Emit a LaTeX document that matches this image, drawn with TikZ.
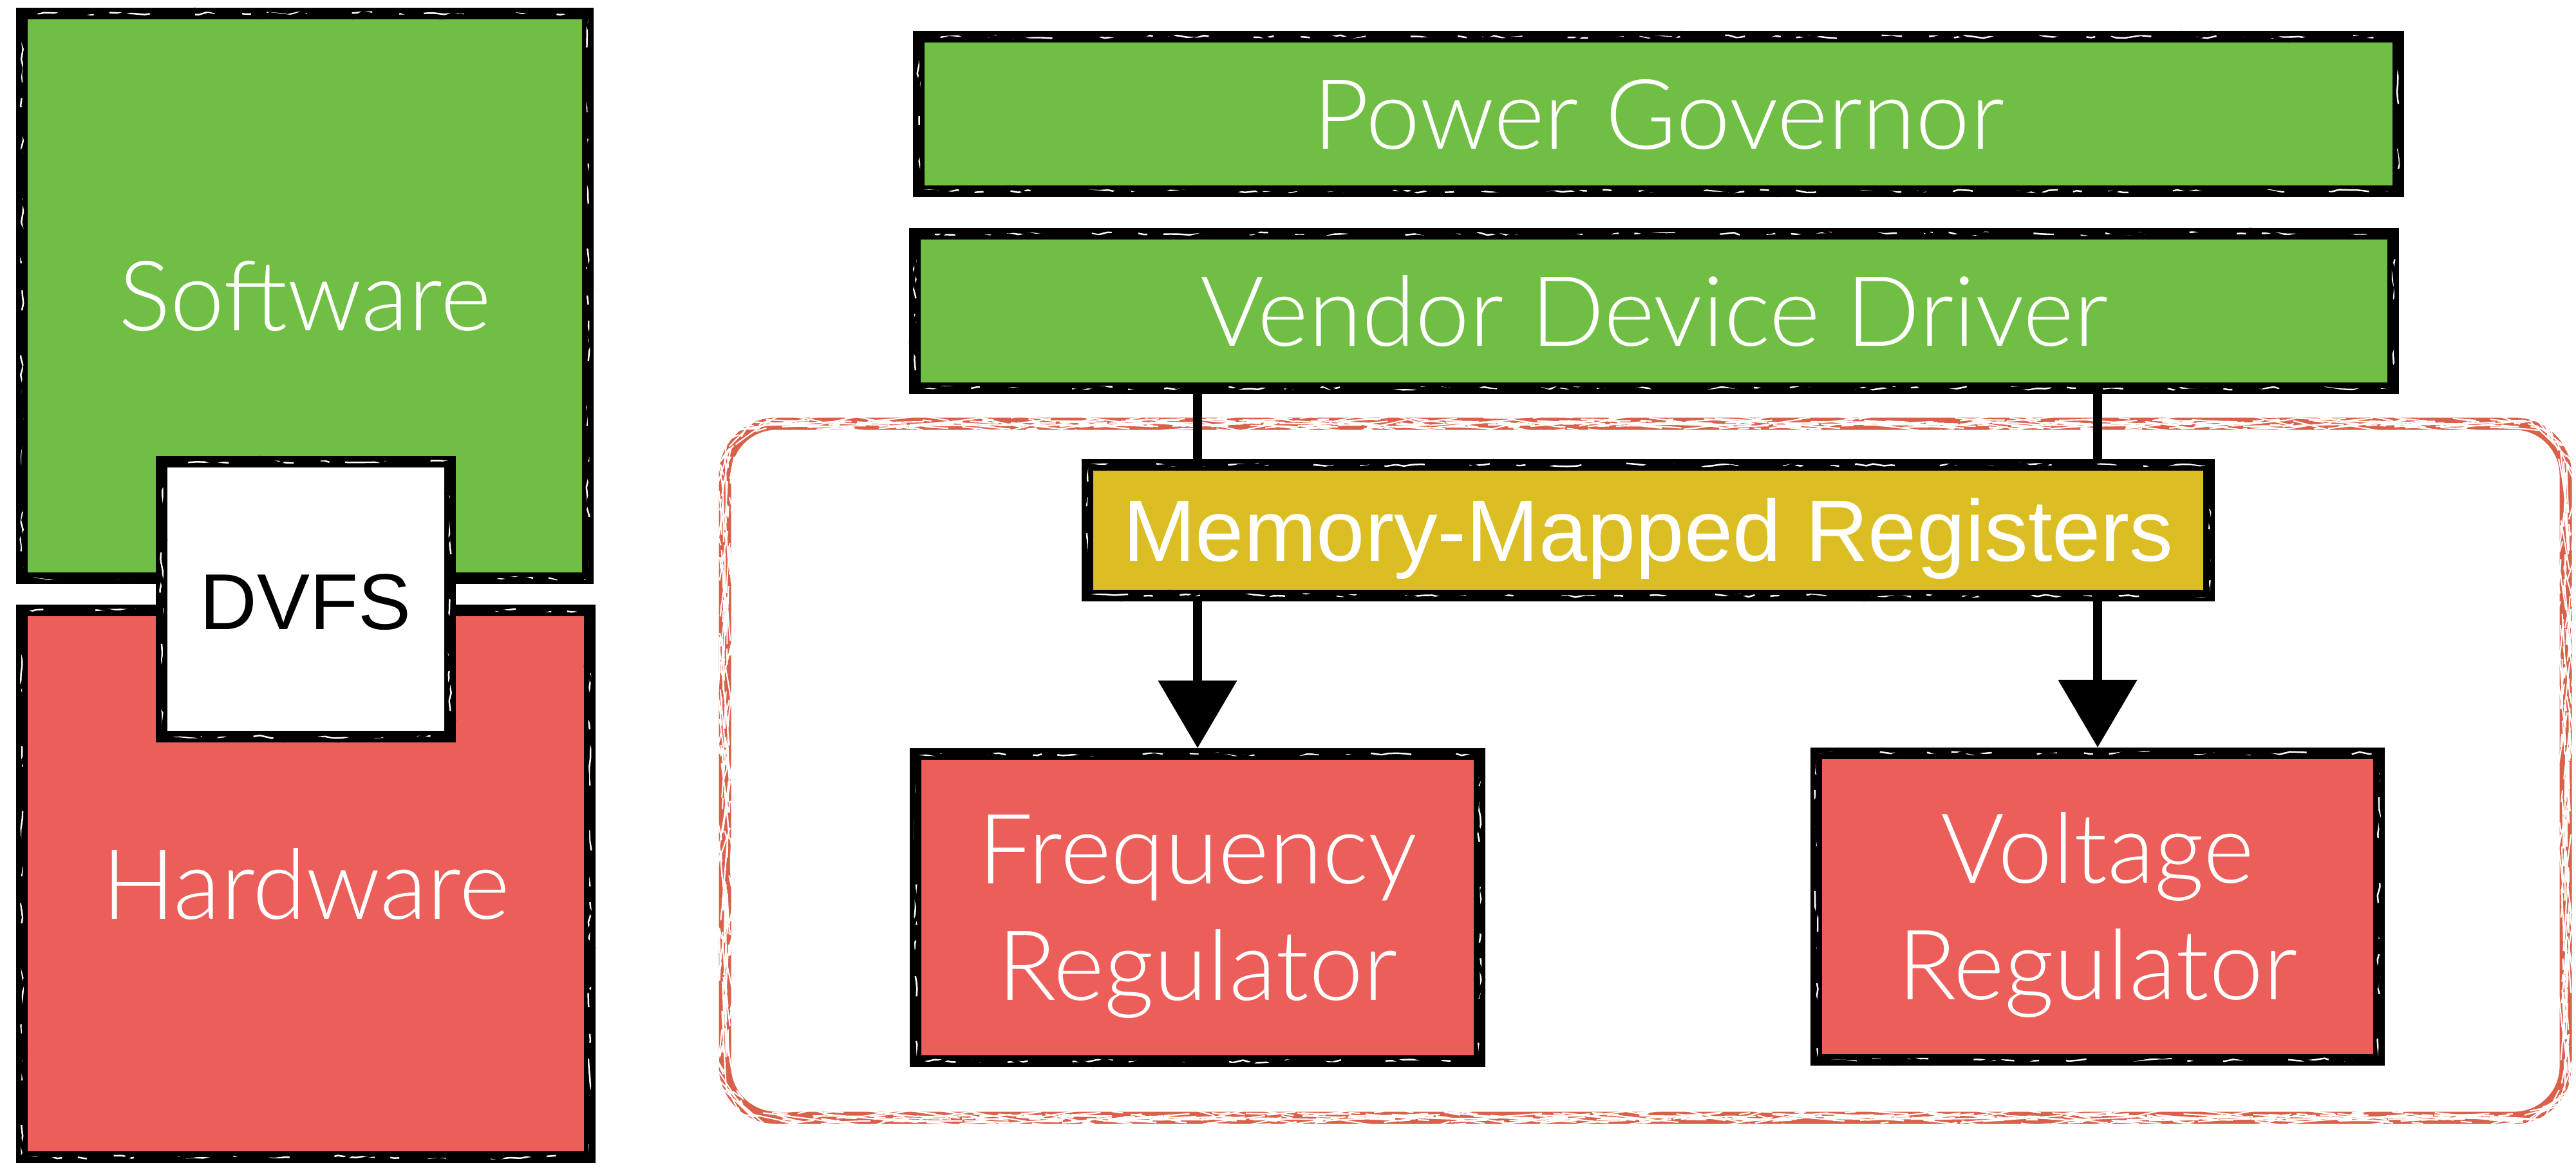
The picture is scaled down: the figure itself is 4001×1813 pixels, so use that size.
\documentclass[tikz,border=0pt]{standalone}
\usepackage{fontspec}
\newfontfamily\gillfont{Lato Light}
\newfontfamily\helvfont{Liberation Sans}
\usetikzlibrary{arrows.meta,decorations.pathmorphing}

\definecolor{swgreen}{HTML}{70BE44}
\definecolor{hwred}{HTML}{EB5E59}
\definecolor{regyellow}{HTML}{DBBD24}
\definecolor{frame}{HTML}{D9604A}

\tikzset{
  % hand-drawn looking outline: thick band, light streaks, loose outer stroke
  rough/.style={draw=black, line width=5.1pt,
    postaction={draw=white, line width=0.7pt,
      dash pattern=on 18pt off 7pt on 4pt off 12pt on 9pt off 20pt,
      decorate, decoration={random steps, segment length=4pt, amplitude=0.7pt}},
    postaction={draw=black, line width=1.3pt,
      decorate, decoration={random steps, segment length=7pt, amplitude=2pt}}},
  blk/.style={rough, rectangle, inner sep=0pt, outer sep=0pt, text=white,
    font=\gillfont\fontsize{43pt}{51.5pt}\selectfont,
    text height=31pt, text depth=0pt},
  tworow/.style={align=center, text height=82.2pt, text depth=0pt},
  conn/.style={draw=black, line width=4pt,
    -{Triangle[length=29.9pt, width=34pt]}, shorten >=2.6pt},
  groupframe/.style={draw=frame, line width=5.4pt, rounded corners=8mm,
    postaction={draw=white, line width=0.6pt,
      dash pattern=on 22pt off 10pt on 5pt off 16pt,
      decorate, decoration={random steps, segment length=5pt, amplitude=0.8pt}}}
}

\begin{document}
\begin{tikzpicture}[x=0.1mm, y=-0.1mm]
  \useasboundingbox (0,0) rectangle (4001,1813);

  % left column: software above hardware, DVFS in between
  \node[blk, fill=swgreen, minimum width=87.9mm, minimum height=87.7mm]
    (sw) at (473.5,459.5) {Software};
  \node[blk, fill=hwred, minimum width=88.2mm, minimum height=84.9mm]
    (hw) at (475,1372.5) {Hardware};
  \node[blk, fill=white, text=black, minimum width=44.8mm, minimum height=42.7mm,
    font=\helvfont\fontsize{35pt}{42pt}\selectfont, text height=27pt]
    (dvfs) at (475,930.5) {DVFS};

  % hardware group frame
  \node[groupframe, rectangle, inner sep=0pt, minimum width=285.9mm,
    minimum height=107.8mm] (hwgroup) at (2555.5,1197) {};

  % software stack
  \node[blk, fill=swgreen, minimum width=229.8mm, minimum height=24mm]
    (pg) at (2576,177) {Power Governor};
  \node[blk, fill=swgreen, minimum width=229.6mm, minimum height=24mm]
    (vdd) at (2569,483) {Vendor Device Driver};

  % regulators
  \node[blk, tworow, fill=hwred, minimum width=87.6mm, minimum height=47.7mm]
    (freq) at (1860,1409.5) {Frequency\\Regulator};
  \node[blk, tworow, fill=hwred, minimum width=87.4mm, minimum height=47.6mm]
    (volt) at (3258,1408) {Voltage\\Regulator};

  % driver writes through the registers to the regulators
  \draw[conn] (vdd.south -| freq.north) -- (freq.north);
  \draw[conn] (vdd.south -| volt.north) -- (volt.north);

  \node[blk, fill=regyellow, minimum width=174.2mm, minimum height=20.3mm,
    font=\helvfont\fontsize{38.5pt}{46pt}\selectfont, text height=27.5pt]
    (mmr) at (2560,823.5) {Memory-Mapped Registers};
\end{tikzpicture}
\end{document}
